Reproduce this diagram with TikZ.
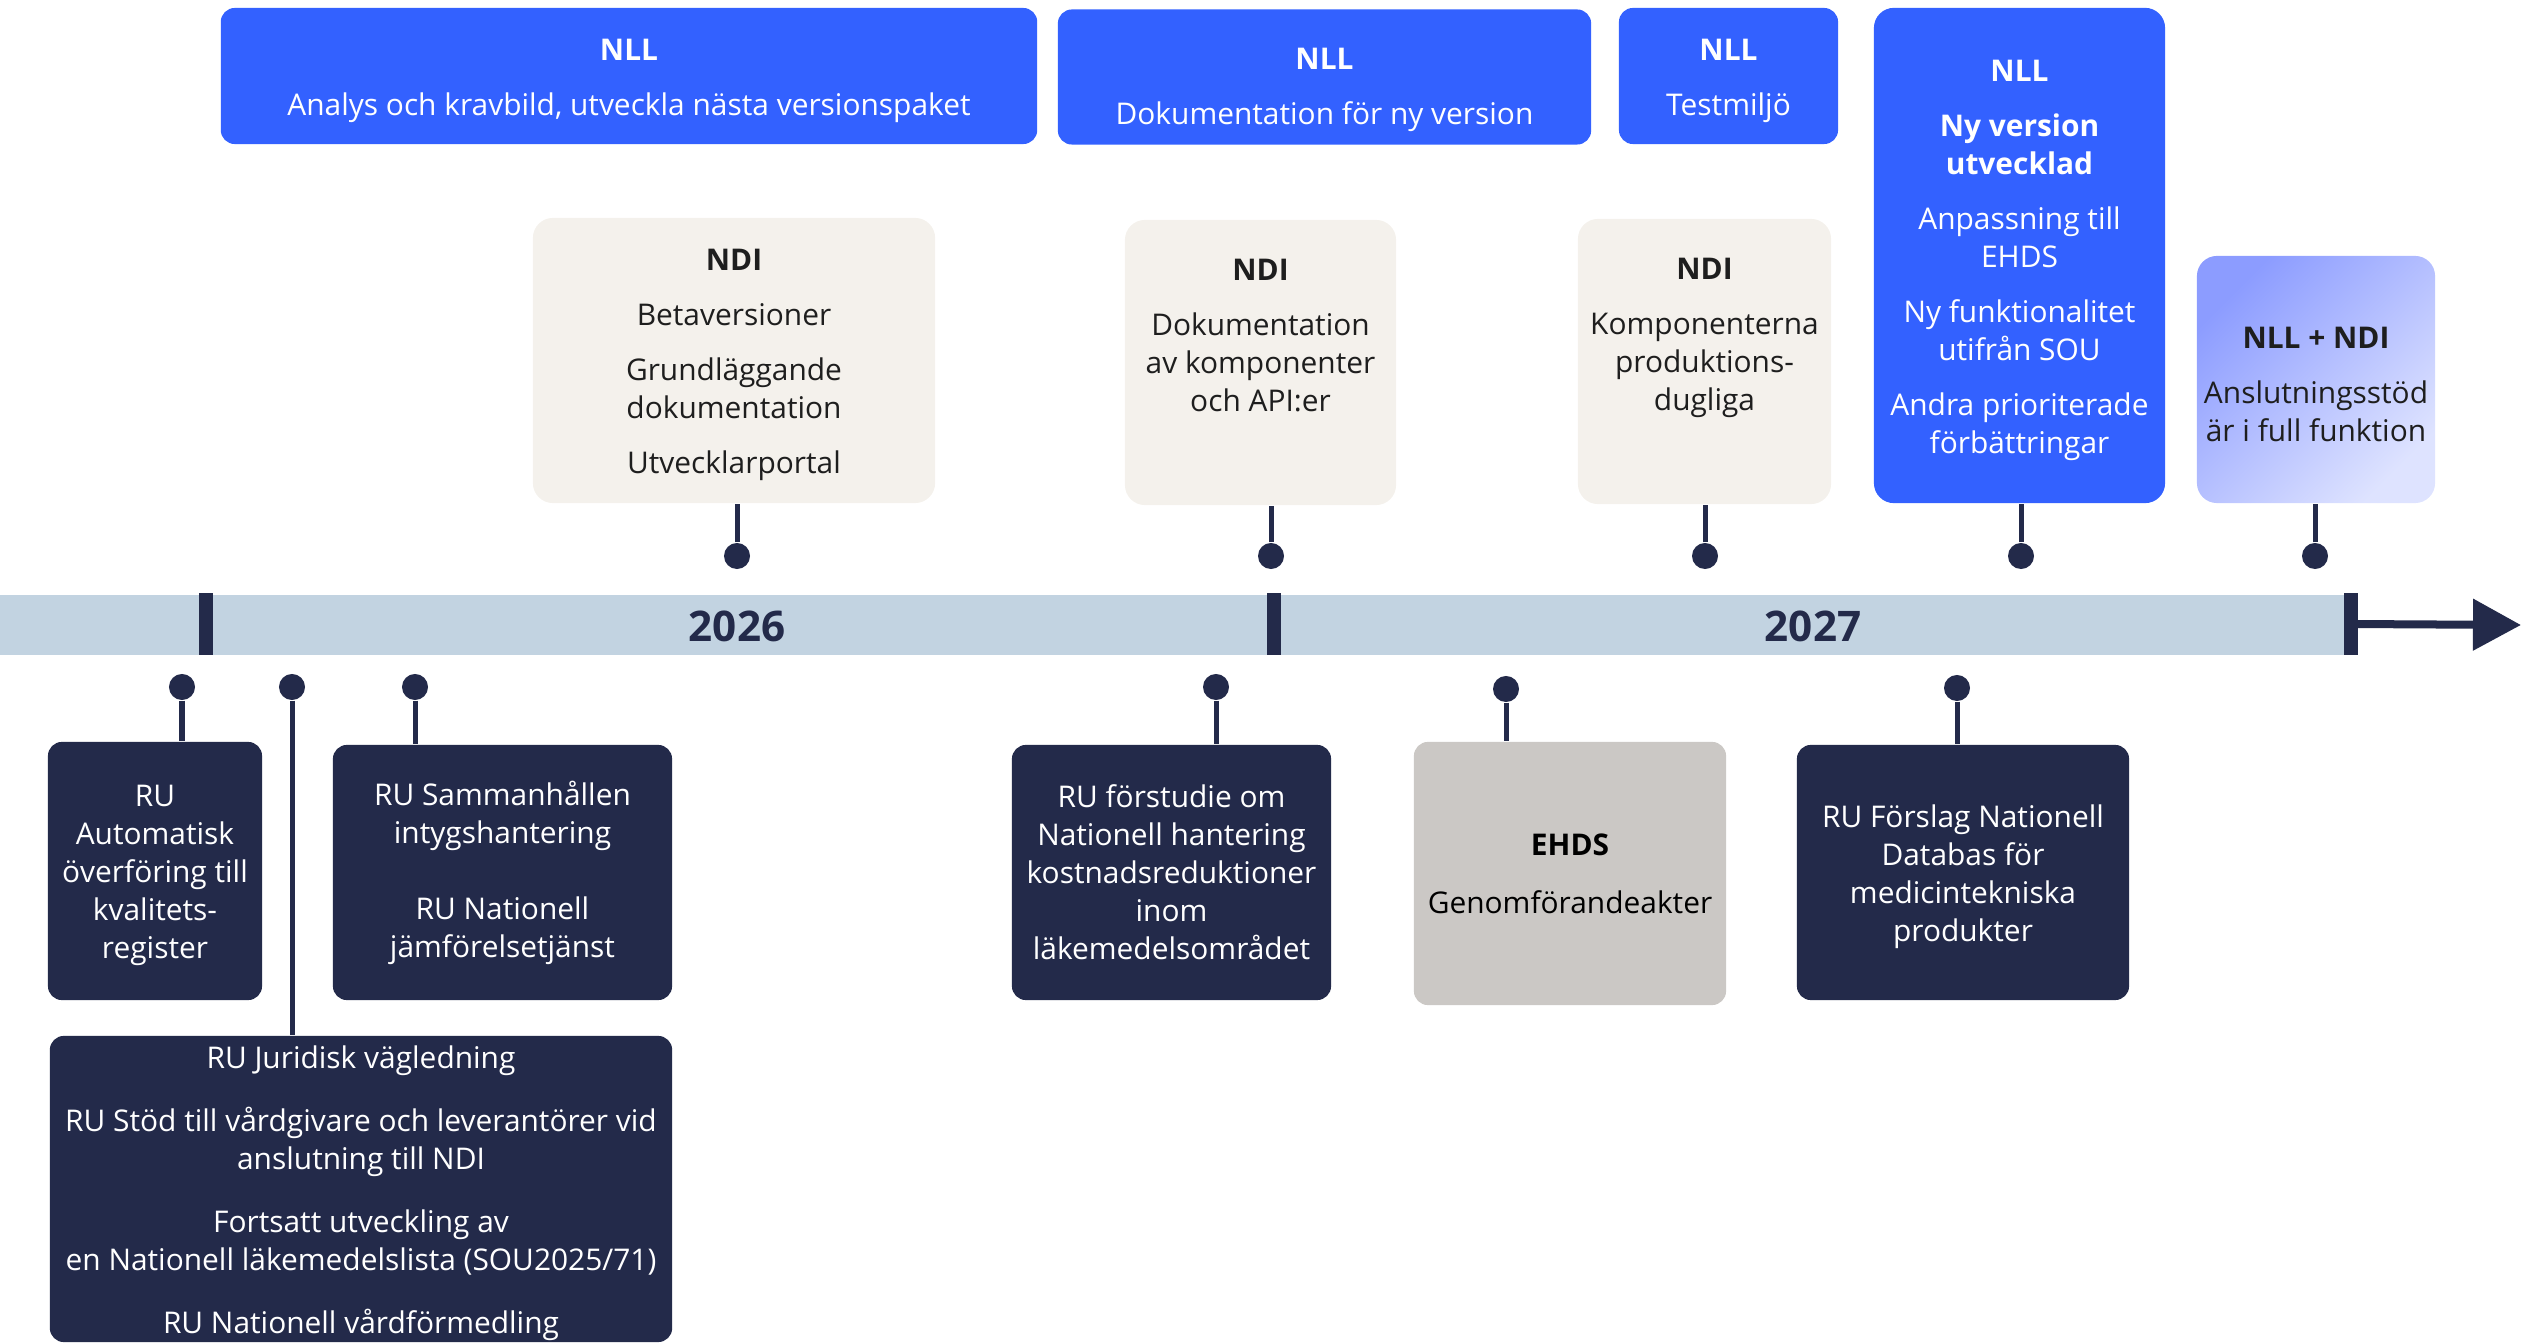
\documentclass[tikz,border=0pt]{standalone}
\usepackage{fontspec}
\setmainfont{Open Sans}
\usetikzlibrary{arrows.meta,shapes}

\definecolor{nllblue}{HTML}{3361FF}
\definecolor{ndibeige}{HTML}{F4F1EC}
\definecolor{runavy}{HTML}{232A4A}
\definecolor{ehdsgray}{HTML}{CBC8C5}
\definecolor{barblue}{HTML}{C2D3E1}
\definecolor{gradA}{HTML}{8C9CFF}
\definecolor{gradB}{HTML}{DEE3FF}
\definecolor{inkdark}{HTML}{1E1E1E}

\newcommand{\pgap}{\\[0.17cm]}
\newcommand{\bgap}{\\[0.25cm]}
\newcommand{\tstrut}{\rule{0pt}{0.31cm}}

\begin{document}
\begin{tikzpicture}[x=0.01cm,y=-0.01cm]
\tikzstyle{box}=[rectangle,rounded corners=0.14cm,inner sep=0pt,align=center,font=\fontsize{8.5pt}{10.8pt}\selectfont]
\tikzstyle{nll}=[box,fill=nllblue,text=white]
\tikzstyle{ndi}=[box,fill=ndibeige,text=inkdark,rounded corners=0.2cm]
\tikzstyle{ru}=[box,fill=runavy,text=white]
\tikzstyle{dot}=[circle,fill=runavy,inner sep=0pt,minimum size=0.26cm]
\tikzstyle{stem}=[draw=runavy,line width=0.05cm]
\tikzstyle{tick}=[rectangle,fill=runavy,inner sep=0pt,minimum width=0.14cm,minimum height=0.61cm]
\tikzstyle{year}=[font=\fontsize{12pt}{14pt}\selectfont\bfseries,text=runavy]

\useasboundingbox (0,0) rectangle (2529,1343);

% tidslinje
\fill[barblue] (0,595) rectangle (2347,655);
\node[tick] (t1) at (206,624) {};
\node[tick] (t2) at (1274,624) {};
\node[tick] (t3) at (2351,624) {};
\coordinate (tip) at (2521,625);
\draw[runavy,line width=0.08cm,-{Triangle[length=0.48cm,width=0.5cm]}] (t3.center) -- (tip);
\node[year] (yA) at (737,626) {2026};
\node[year] (yB) at (1813,626) {2027};

% NLL
\node[nll,minimum width=8.16cm,minimum height=1.36cm] (nllA) at (629,76) {\tstrut\textbf{NLL}\pgap Analys och kravbild, utveckla nästa versionspaket};
\node[nll,minimum width=5.33cm,minimum height=1.35cm] (nllB) at (1324.5,77) {\rule{0pt}{0.47cm}\textbf{NLL}\pgap Dokumentation för ny version};
\node[nll,minimum width=2.19cm,minimum height=1.36cm] (nllC) at (1728.5,76) {\tstrut\textbf{NLL}\pgap Testmiljö};
\node[nll,minimum width=2.91cm,minimum height=4.95cm,rounded corners=0.2cm] (nllD) at (2019.5,255.5) {\tstrut\textbf{NLL}\pgap\textbf{Ny version}\\\textbf{utvecklad}\pgap Anpassning till\\EHDS\pgap Ny funktionalitet\\utifrån SOU\pgap Andra prioriterade\\förbättringar};
\node[box,top color=gradA,bottom color=gradB,shading angle=45,text=inkdark,minimum width=2.38cm,minimum height=2.47cm,rounded corners=0.2cm] (both) at (2316,379.5) {\tstrut\textbf{NLL + NDI}\pgap Anslutningsstöd\\är i full funktion};

% NDI
\node[ndi,minimum width=4.02cm,minimum height=2.85cm] (ndiA) at (734,360.5) {\tstrut\textbf{NDI}\pgap Betaversioner\pgap Grundläggande\\dokumentation\pgap Utvecklarportal};
\node[ndi,minimum width=2.71cm,minimum height=2.85cm] (ndiB) at (1260.5,362.5) {\tstrut\textbf{NDI}\pgap Dokumentation\\av komponenter\\och API:er\\[0.26cm]\mbox{}};
\node[ndi,minimum width=2.53cm,minimum height=2.85cm] (ndiC) at (1704.5,361.5) {\tstrut\textbf{NDI}\pgap Komponenterna\\produktions-\\dugliga\\[0.26cm]\mbox{}};

\node[dot] (dA) at (737,556) {};
\node[dot] (dB) at (1271,556) {};
\node[dot] (dC) at (1705,556) {};
\node[dot] (dD) at (2021,556) {};
\node[dot] (dE) at (2315,556) {};
\draw[stem] (dA) -- (dA |- ndiA.south);
\draw[stem] (dB) -- (dB |- ndiB.south);
\draw[stem] (dC) -- (dC |- ndiC.south);
\draw[stem] (dD) -- (dD |- nllD.south);
\draw[stem] (dE) -- (dE |- both.south);

% RU
\node[ru,minimum width=2.14cm,minimum height=2.58cm] (ruA) at (155,871) {\tstrut RU\\Automatisk\\överföring till\\kvalitets-\\register};
\node[ru,minimum width=3.39cm,minimum height=2.55cm] (ruB) at (502.5,872.5) {RU Sammanhållen\\intygshantering\\[0.38cm]RU Nationell\\jämförelsetjänst};
\node[ru,minimum width=6.22cm,minimum height=3.06cm] (ruC) at (361,1189) {\tstrut RU Juridisk vägledning\bgap RU Stöd till vårdgivare och leverantörer vid\\anslutning till NDI\bgap Fortsatt utveckling av\\en Nationell läkemedelslista (SOU2025/71)\bgap RU Nationell vårdförmedling};
\node[ru,minimum width=3.19cm,minimum height=2.55cm] (ruD) at (1171.5,872.5) {RU förstudie om\\Nationell hantering\\kostnadsreduktioner\\inom\\läkemedelsområdet};
\node[box,fill=ehdsgray,text=black,minimum width=3.12cm,minimum height=2.63cm] (ehds) at (1570,873.5) {\textbf{EHDS}\\[0.2cm]Genomförandeakter};
\node[ru,minimum width=3.32cm,minimum height=2.55cm] (ruE) at (1963,872.5) {\tstrut RU Förslag Nationell\\Databas för\\medicintekniska\\produkter};

\node[dot] (eA) at (182,687) {};
\node[dot] (eB) at (292,687) {};
\node[dot] (eC) at (415,687) {};
\node[dot] (eD) at (1216,687) {};
\node[dot] (eE) at (1506,689) {};
\node[dot] (eF) at (1957,688) {};
\draw[stem] (eA) -- (eA |- ruA.north);
\draw[stem] (eB) -- (eB |- ruC.north);
\draw[stem] (eC) -- (eC |- ruB.north);
\draw[stem] (eD) -- (eD |- ruD.north);
\draw[stem] (eE) -- (eE |- ehds.north);
\draw[stem] (eF) -- (eF |- ruE.north);
\end{tikzpicture}
\end{document}
